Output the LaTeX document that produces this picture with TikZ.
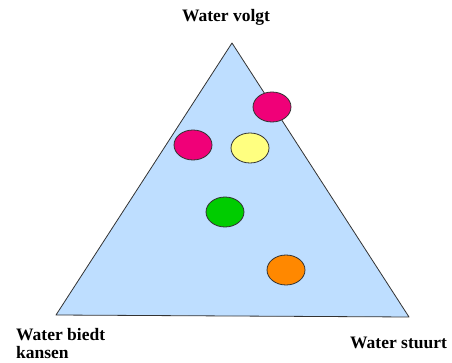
\documentclass[tikz,border=0pt]{standalone}
\usepackage{fontspec}
\setmainfont{Liberation Serif}
\definecolor{triblue}{RGB}{190,222,255}
\definecolor{dotpink}{RGB}{240,0,120}
\definecolor{dotyellow}{RGB}{255,255,128}
\definecolor{dotgreen}{RGB}{0,204,0}
\definecolor{dotorange}{RGB}{255,136,0}
\tikzset{
  dot/.style={draw=black!80, line width=0.8pt, ellipse, minimum width=38pt, minimum height=30pt, inner sep=0pt},
  lbl/.style={font=\fontsize{17.5}{18}\selectfont\bfseries, inner sep=0pt, align=left}
}
\usetikzlibrary{shapes.geometric}
\begin{document}
\begin{tikzpicture}[x=1pt,y=-1pt]
\useasboundingbox (0,0) rectangle (452,363);
\coordinate (top) at (232,43);
\coordinate (bl) at (56,315);
\coordinate (br) at (409,317);
\filldraw[fill=triblue, draw=black!80, line width=0.8pt, line join=round] (top) -- (br) -- (bl) -- cycle;
\node[dot, fill=dotpink] (p1) at (272,107) {};
\node[dot, fill=dotpink] (p2) at (193,145) {};
\node[dot, fill=dotyellow] (y1) at (250,148) {};
\node[dot, fill=dotgreen] (g1) at (225,212) {};
\node[dot, fill=dotorange] (o1) at (286,270) {};
\node[lbl] (t1) at (226,17) {Water volgt};
\node[lbl, anchor=west] (t2) at (16,335) {Water biedt};
\node[lbl, anchor=west] (t3) at (16,353) {kansen};
\node[lbl, anchor=west] (t4) at (350,343) {Water stuurt};
\end{tikzpicture}
\end{document}
